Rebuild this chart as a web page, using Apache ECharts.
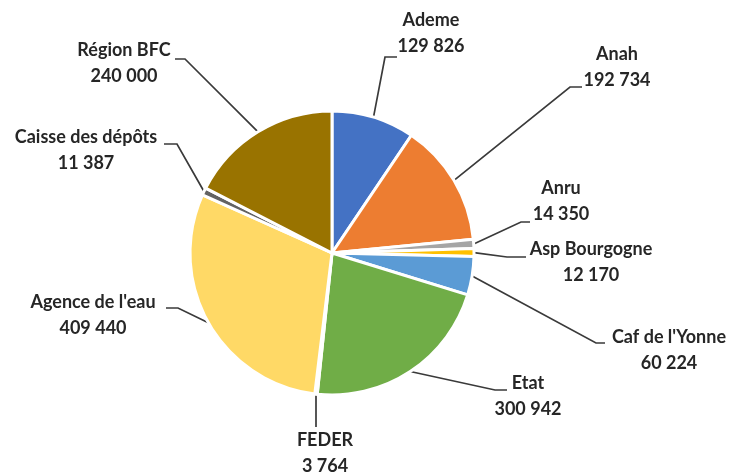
<!DOCTYPE html>
<html>
<head>
<meta charset="utf-8">
<script src="https://cdn.jsdelivr.net/npm/echarts@6/dist/echarts.min.js"></script>
<style>
  html, body { margin: 0; padding: 0; background: #fff; }
  #chart { width: 732px; height: 474px; }
</style>
</head>
<body>
<div id="chart"></div>
<script>
// --- Data ---
const financeurs = ['Ademe', 'Anah', 'Anru', 'Asp Bourgogne', "Caf de l'Yonne", 'Etat', 'FEDER', "Agence de l'eau", 'Caisse des dépôts', 'Région BFC'];
const montants = [129826, 192734, 14350, 12170, 60224, 300942, 3764, 409440, 11387, 240000];
const couleurs = ['#4472C4', '#ED7D31', '#A5A5A5', '#FFC000', '#5B9BD5', '#70AD47', '#264478', '#FFD966', '#636363', '#997300'];

// --- Layout (label centres and leader line elbows) ---
const centre = [332, 253];
const rayon = 142;
const labelCentres = [[431, 33], [617, 67], [561, 201], [591, 262], [669, 350], [528, 396], [325, 453], [93, 315], [86, 150], [124, 63]];
const leaderEnds = [
    [[385, 57], [397, 57]],
    [[570, 87], [582, 87]],
    [[521, 222], [530, 222]],
    [[507, 257], [526, 257]],
    [[596, 343], [605, 343]],
    [[495, 390], [507, 390]],
    [[316, 412], [316, 427]],
    [[178, 308], [166, 308]],
    [[177, 144], [164, 144]],
    [[185, 59], [175, 59]]
];

const total = montants.reduce((a, b) => a + b, 0);

function formatNombre(v) {
    return String(v).replace(/\B(?=(\d{3})+(?!\d))/g, ' ');
}

// outer edge point at the middle angle of a slice (clockwise from 12 o'clock)
function pointDepart(idx) {
    let cumul = 0;
    for (let i = 0; i < idx; i++) cumul += montants[i];
    const mid = (cumul + montants[idx] / 2) / total * 2 * Math.PI;
    return [centre[0] + rayon * Math.sin(mid), centre[1] - rayon * Math.cos(mid)];
}

const chart = echarts.init(document.getElementById('chart'));

const option = {
    animation: false,
    series: [{
        type: 'pie',
        center: centre,
        radius: [0, rayon],
        startAngle: 90,
        clockwise: true,
        avoidLabelOverlap: false,
        data: financeurs.map((nom, i) => ({ name: nom, value: montants[i], itemStyle: { color: couleurs[i] } })),
        itemStyle: { borderColor: '#ffffff', borderWidth: 3 },
        label: {
            show: true,
            position: 'outside',
            formatter: p => p.name + '\n' + formatNombre(p.value),
            fontFamily: 'Lato, "Liberation Sans", sans-serif',
            fontWeight: 'bold',
            fontSize: 18,
            lineHeight: 26,
            color: '#262626',
            align: 'center'
        },
        labelLine: {
            show: true,
            lineStyle: { color: '#3a3a3a', width: 1.7 }
        },
        labelLayout: function (params) {
            const i = params.dataIndex;
            const c = labelCentres[i];
            return {
                x: c[0],
                y: c[1],
                align: 'center',
                verticalAlign: 'middle',
                labelLinePoints: [pointDepart(i), leaderEnds[i][0], leaderEnds[i][1]]
            };
        },
        emphasis: { disabled: true }
    }]
};

chart.setOption(option);
</script>
</body>
</html>
